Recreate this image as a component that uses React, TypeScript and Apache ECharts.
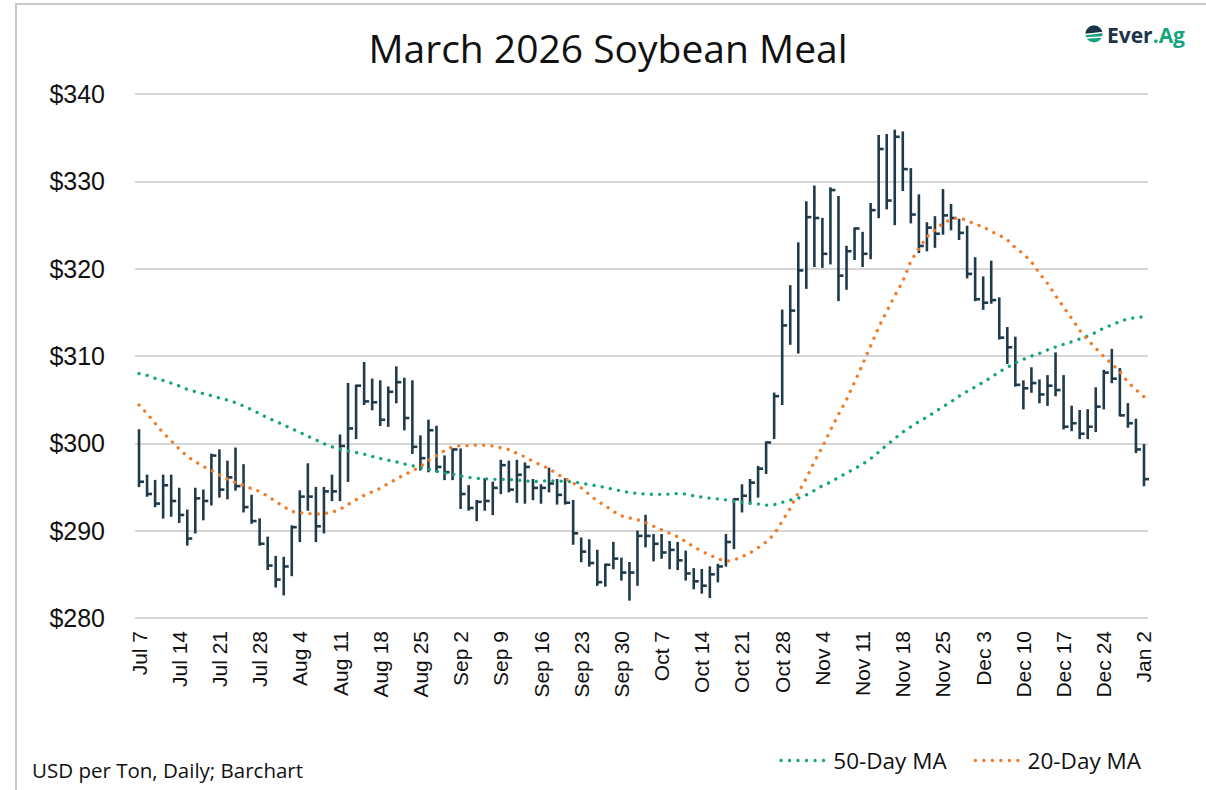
import React, { useEffect, useRef } from "react";
import * as echarts from "echarts";

// Tick labels (every 5th trading day, Jul 7 2025 – Jan 2 2026)
const tickLabels = ["Jul 7","Jul 14","Jul 21","Jul 28","Aug 4","Aug 11","Aug 18","Aug 25","Sep 2","Sep 9","Sep 16","Sep 23","Sep 30","Oct 7","Oct 14","Oct 21","Oct 28","Nov 4","Nov 11","Nov 18","Nov 25","Dec 3","Dec 10","Dec 17","Dec 24","Jan 2"];

// Daily HLC bars (USD per ton)
const highs = [301.5,296.3,295.7,296.3,296.3,294.8,292.3,294.8,294.6,298.7,299.2,297.9,299.4,297.5,294.0,291.3,289.2,287.0,286.9,290.5,294.5,297.6,294.9,294.9,296.3,300.9,306.8,306.6,309.2,307.3,307.1,306.4,308.7,307.4,307.1,300.8,302.6,301.9,298.5,299.3,299.3,295.1,293.4,295.9,295.5,298.0,297.9,298.0,297.7,295.8,295.2,297.1,295.8,295.9,293.4,289.1,288.9,287.7,286.1,288.6,286.8,286.3,289.9,291.7,289.5,289.5,288.7,288.6,287.6,285.6,285.5,285.8,286.1,289.5,293.6,295.2,295.8,297.3,300.1,305.7,315.2,318.0,322.9,327.6,329.4,325.7,329.2,328.2,322.5,324.6,324.1,327.4,335.2,335.3,335.8,335.6,331.4,328.4,325.2,325.9,329.0,327.3,325.6,324.8,321.2,319.0,320.8,316.6,313.2,312.1,307.1,308.6,307.2,307.7,310.3,307.7,304.2,303.7,303.8,306.3,308.3,310.7,308.5,304.5,302.7,299.8];
const lows = [295.1,294.0,292.8,291.5,291.7,291.0,288.4,289.8,291.3,293.0,293.9,293.7,294.7,292.2,290.9,288.4,285.6,283.6,282.7,284.9,288.8,292.4,288.8,289.8,293.5,293.5,295.7,300.6,304.5,303.9,302.1,302.0,304.7,301.6,298.9,297.0,296.8,296.8,295.9,295.9,292.6,292.4,291.2,292.4,291.9,294.3,294.5,293.3,293.2,293.6,293.2,294.5,293.1,293.1,288.5,286.5,286.0,283.8,283.7,285.7,284.4,282.1,283.8,288.2,286.6,286.9,285.7,285.6,284.4,283.4,282.9,282.4,284.2,286.0,288.0,292.2,293.1,293.9,296.6,300.6,304.5,311.4,310.4,317.8,320.3,320.2,320.6,316.4,317.7,321.1,320.3,321.2,325.9,326.9,325.1,329.0,325.3,321.9,322.1,322.5,324.0,324.5,323.4,319.0,316.4,315.4,316.1,312.0,309.2,306.6,304.0,305.9,304.7,304.4,305.5,301.7,301.5,300.6,300.6,301.4,304.0,307.0,303.2,301.9,299.0,295.2];
const closes = [295.6,294.2,293.1,295.2,293.4,291.8,289.1,293.7,293.4,298.6,294.7,296.1,295.1,292.7,291.1,288.5,286.0,284.4,285.9,290.4,293.9,293.9,290.5,294.5,294.5,299.7,301.7,306.6,304.8,304.7,302.7,305.9,307.0,302.9,299.6,298.3,301.5,297.3,296.7,299.3,294.2,292.6,293.3,293.4,294.9,297.5,294.7,296.4,297.3,294.9,294.9,295.4,294.1,293.2,289.7,287.6,286.3,284.1,286.1,286.8,285.2,285.2,289.4,289.4,288.5,287.5,287.8,286.6,285.1,284.2,283.7,285.0,285.9,288.7,293.6,294.0,295.5,297.1,300.1,305.4,313.5,315.2,319.8,325.9,325.8,321.7,329.0,319.2,322.0,324.6,321.7,326.7,333.7,327.8,335.1,331.4,326.2,322.6,324.7,324.0,326.1,325.8,324.1,319.4,316.5,316.1,316.4,312.1,311.0,306.7,306.3,306.9,305.6,306.6,306.1,301.9,302.3,301.1,301.9,304.2,308.1,307.4,303.2,302.3,299.3,295.9];

// Moving averages
const ma50 = [307.98,307.79,307.44,307.21,306.9,306.56,306.18,305.92,305.69,305.46,305.19,304.96,304.66,304.27,303.85,303.4,302.9,302.52,302.1,301.68,301.26,300.8,300.4,299.95,299.6,299.33,299.13,298.95,298.76,298.5,298.27,298.07,297.88,297.63,297.43,297.24,297.05,296.8,296.6,296.47,296.25,296.1,296.0,295.95,295.88,295.88,295.85,295.8,295.7,295.62,295.67,295.72,295.7,295.65,295.58,295.45,295.26,295.12,294.95,294.72,294.56,294.35,294.27,294.2,294.16,294.16,294.18,294.25,294.2,293.98,293.84,293.72,293.64,293.52,293.35,293.25,293.15,293.05,292.93,292.97,293.25,293.5,293.72,294.1,294.6,295.15,295.55,296.1,296.6,297.1,297.6,298.25,299.0,299.8,300.55,301.3,301.9,302.5,303.0,303.6,304.2,304.75,305.4,305.95,306.45,307.0,307.55,308.2,308.7,309.2,309.62,310.0,310.3,310.7,311.03,311.34,311.62,311.95,312.27,312.7,313.2,313.55,313.95,314.25,314.4,314.5];
const ma20 = [304.4,303.4,302.3,301.2,300.3,299.35,298.5,297.9,297.35,296.9,296.4,295.9,295.5,295.2,294.8,294.5,293.95,293.35,292.75,292.2,292.05,291.97,291.9,291.95,292.1,292.45,293.0,293.55,294.05,294.45,294.85,295.4,295.9,296.4,296.85,297.35,298.05,298.6,299.15,299.6,299.75,299.72,299.8,299.77,299.7,299.5,299.3,298.85,298.45,297.95,297.5,297.1,296.5,295.95,295.45,294.9,294.15,293.4,292.85,292.2,291.7,291.45,291.25,290.95,290.5,290.1,289.7,289.3,288.75,288.15,287.65,287.2,286.8,286.5,286.65,287.0,287.45,288.05,288.7,289.6,291.1,292.55,294.35,296.0,297.9,299.6,301.5,303.3,305.0,307.0,309.05,311.15,313.3,315.1,316.9,318.55,320.85,322.3,323.65,324.45,325.2,325.65,325.84,325.5,325.1,324.8,324.25,323.85,323.3,322.4,321.7,320.8,319.45,318.3,316.9,315.6,314.3,312.95,311.85,310.9,309.95,309.1,308.2,307.0,306.15,305.35];

const yMin = 280;
const yMax = 340;
const yStep = 10;

const BAR_COLOR = "#1f3a4b";
const GREEN = "#14a47f";
const ORANGE = "#f27b23";
const UI_FONT = "'Open Sans', 'Noto Sans', sans-serif";
const AXIS_FONT = "'Liberation Sans', Arial, sans-serif";

// legend icon: six dots in a row
function dotsIcon(): string {
  const r = 1.7;
  let d = "";
  for (let k = 0; k < 6; k++) {
    const cx = r + k * 8.5;
    d += `M${cx - r},${r}a${r},${r} 0 1,0 ${2 * r},0a${r},${r} 0 1,0 ${-2 * r},0Z`;
  }
  return "path://" + d;
}

export default function App() {
  const ref = useRef<HTMLDivElement>(null);

  useEffect(() => {
    if (!ref.current) return;
    const chart = echarts.init(ref.current, null, { renderer: "svg" });

    const bars = highs.map((h, i) => [i, h, lows[i], closes[i]]);
    const tickIdx = tickLabels.map((_, k) => k * 5);

    const option: any = {
      animation: false,
      backgroundColor: "#ffffff",
      grid: { left: 135, right: 58, top: 94, bottom: 172, containLabel: false },
      xAxis: {
        type: "value",
        min: -0.5,
        max: highs.length - 0.5,
        splitLine: { show: false },
        axisLine: { show: false },
        axisTick: { show: false },
        axisLabel: {
          customValues: tickIdx,
          rotate: 90,
          margin: 13,
          fontSize: 21,
          fontFamily: AXIS_FONT,
          color: "#111",
          formatter: (v: number) => tickLabels[Math.round(v / 5)] ?? "",
        },
      },
      yAxis: {
        type: "value",
        min: yMin,
        max: yMax,
        interval: yStep,
        axisLine: { show: false },
        axisTick: { show: false },
        splitLine: { lineStyle: { color: "#c8c8c8", width: 1.5 } },
        axisLabel: {
          margin: 30,
          fontSize: 25,
          fontFamily: AXIS_FONT,
          color: "#111",
          formatter: (v: number) => "$" + v,
        },
      },
      legend: {
        data: ["50-Day MA", "20-Day MA"],
        right: 60,
        top: 744,
        icon: dotsIcon(),
        itemWidth: 46,
        itemHeight: 3.4,
        itemGap: 27,
        textStyle: { fontSize: 22.5, fontFamily: UI_FONT, color: "#111", padding: [0, 0, 0, 3] },
      },
      series: [
        {
          name: "HLC",
          type: "custom",
          data: bars,
          encode: { x: 0, y: [1, 2, 3] },
          z: 2,
          renderItem: (params: any, api: any) => {
            const x = api.value(0);
            const pH = api.coord([x, api.value(1)]);
            const pL = api.coord([x, api.value(2)]);
            const pC = api.coord([x, api.value(3)]);
            return {
              type: "group",
              children: [
                {
                  type: "line",
                  shape: { x1: pH[0], y1: pH[1] - 1, x2: pL[0], y2: pL[1] + 1 },
                  style: { stroke: BAR_COLOR, lineWidth: 2.6 },
                },
                {
                  type: "line",
                  shape: { x1: pC[0], y1: pC[1], x2: pC[0] + 5, y2: pC[1] },
                  style: { stroke: BAR_COLOR, lineWidth: 2.6 },
                },
              ],
            };
          },
        },
        {
          name: "50-Day MA",
          type: "line",
          data: ma50.map((v, i) => [i, v]),
          symbol: "none",
          showSymbol: false,
          z: 3,
          itemStyle: { color: GREEN },
          lineStyle: { color: GREEN, width: 3.3, type: [0.1, 8.2], cap: "round" },
        },
        {
          name: "20-Day MA",
          type: "line",
          data: ma20.map((v, i) => [i, v]),
          symbol: "none",
          showSymbol: false,
          z: 3,
          itemStyle: { color: ORANGE },
          lineStyle: { color: ORANGE, width: 3.3, type: [0.1, 8.2], cap: "round" },
        },
      ],
      graphic: [
        {
          type: "rect",
          silent: true,
          z: -10,
          shape: { x: 16, y: 4, width: 1260, height: 900 },
          style: { fill: "none", stroke: "#c8c8c8", lineWidth: 2 },
        },
        {
          type: "text",
          x: 608,
          y: 47,
          style: {
            text: "March 2026 Soybean Meal",
            fontSize: 39,
            fontFamily: UI_FONT,
            fill: "#111",
            textAlign: "center",
            textVerticalAlign: "middle",
          },
        },
        {
          type: "text",
          x: 32,
          y: 770,
          style: {
            text: "USD per Ton, Daily; Barchart",
            fontSize: 20.5,
            fontFamily: UI_FONT,
            fill: "#111",
            textAlign: "left",
            textVerticalAlign: "middle",
          },
        },
        {
          type: "group",
          x: 1094,
          y: 34,
          children: [
            { type: "circle", shape: { cx: 0, cy: 0, r: 8.5 }, style: { fill: GREEN } },
            {
              type: "sector",
              shape: { cx: 0, cy: 0, r: 8.5, r0: 0, startAngle: Math.PI, endAngle: Math.PI * 2, clockwise: true },
              style: { fill: "#1d3448" },
            },
            { type: "line", shape: { x1: -9, y1: 0.5, x2: 9, y2: -1.5 }, style: { stroke: "#fff", lineWidth: 1.6 } },
            { type: "line", shape: { x1: -9, y1: 4, x2: 9, y2: 3 }, style: { stroke: "#fff", lineWidth: 1.4 } },
          ],
        },
        {
          type: "text",
          x: 1107,
          y: 35,
          style: {
            text: "{a|Ever}{b|.Ag}",
            textVerticalAlign: "middle",
            rich: {
              a: { fontSize: 21, fontWeight: "bold", fontFamily: UI_FONT, fill: "#1d3448", color: "#1d3448" },
              b: { fontSize: 21, fontWeight: "bold", fontFamily: UI_FONT, fill: GREEN, color: GREEN },
            },
          },
        },
      ],
    };

    chart.setOption(option);
    return () => chart.dispose();
  }, []);

  return (
    <div
      ref={ref}
      style={{ position: "absolute", left: 0, top: 0, width: 1206, height: 790, background: "#fff" }}
    />
  );
}
